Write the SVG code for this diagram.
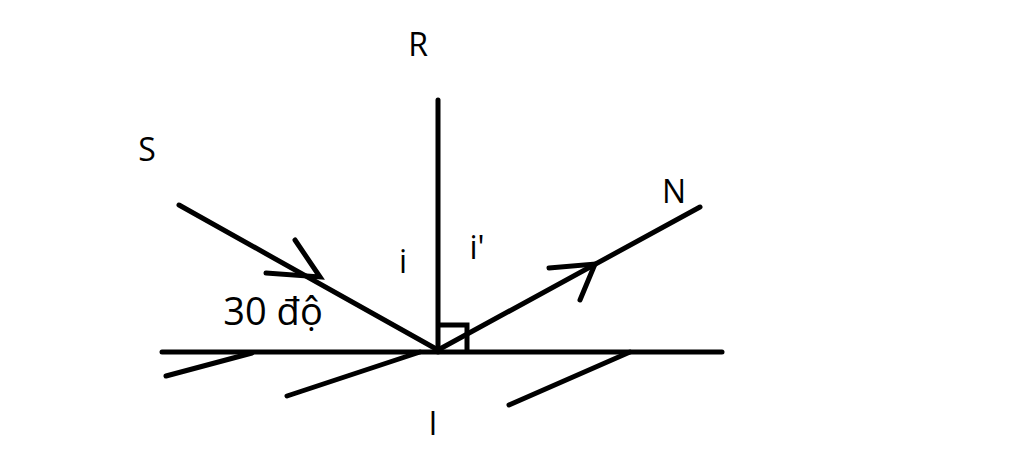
<svg xmlns="http://www.w3.org/2000/svg" width="1024" height="464" viewBox="0 0 1024 464">
<style>
.l{stroke:#000;stroke-width:5;fill:none;stroke-linecap:round}
text{font-family:"Open Sans","Noto Sans",sans-serif;font-size:32px;fill:#000}
</style>
<rect width="1024" height="464" fill="#fff"/>
<g id="connectors">
<path class="l" d="M162 352H722"/>
<path class="l" d="M166 376L252 353M287 396L420 352M509 405L630 352"/>
<path class="l" d="M438 100V352"/>
<path class="l" d="M179 205L438 350"/>
<path class="l" d="M438 350L700 207"/>
<path class="l" d="M266 273L320 277L295 240"/>
<path class="l" d="M549 268L595 264L580 300"/>
<path class="l" d="M440 325H467V350"/>
</g>
<g id="labels">
<text x="418" y="56" text-anchor="middle">R</text>
<text x="147" y="161" text-anchor="middle">S</text>
<text x="674" y="203" text-anchor="middle">N</text>
<text x="403" y="273" text-anchor="middle">i</text>
<text x="477" y="259" text-anchor="middle">i'</text>
<text x="273" y="325" text-anchor="middle" style="font-size:38px">30 độ</text>
<text x="433" y="435" text-anchor="middle">I</text>
</g>
</svg>
